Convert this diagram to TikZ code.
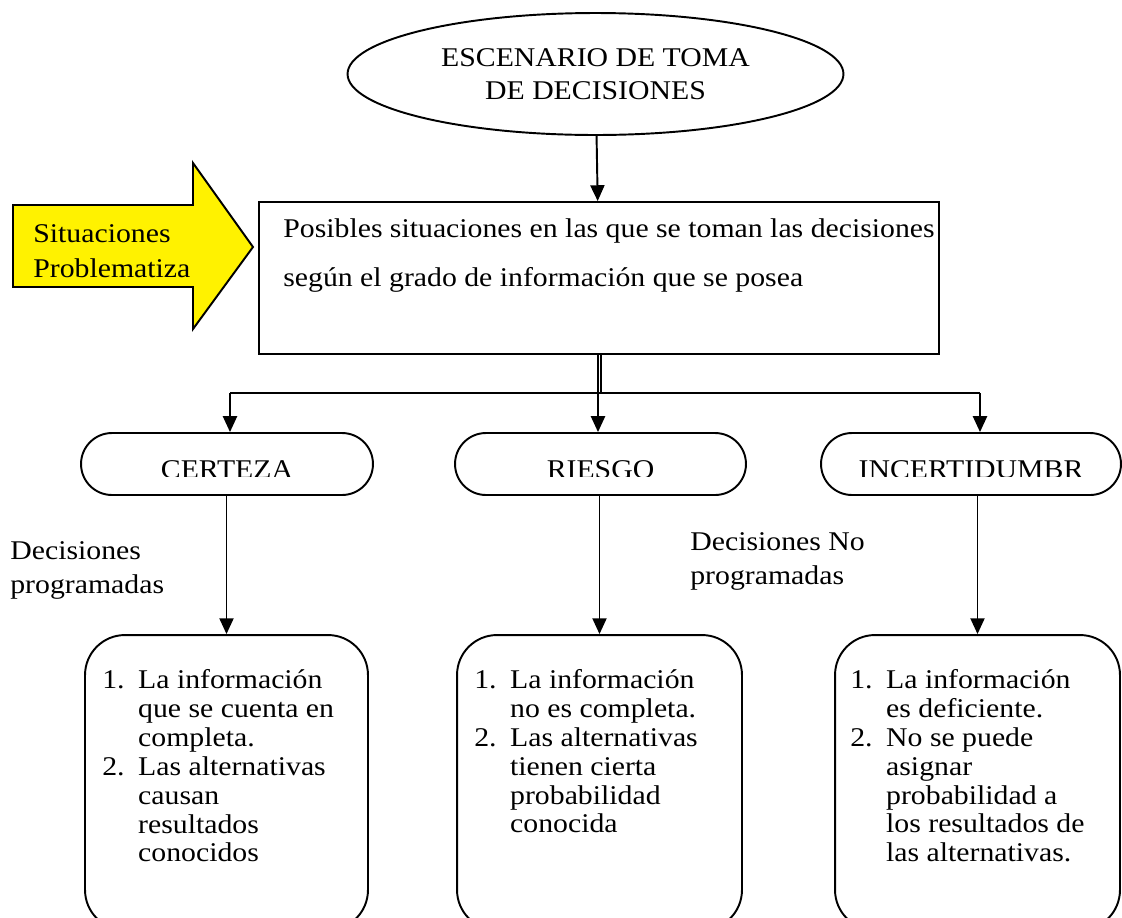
\documentclass[tikz,border=0pt]{standalone}
\usepackage{fontspec}
\setmainfont{Liberation Serif}[FakeStretch=1.1]
\usetikzlibrary{shapes.geometric,shapes.misc,arrows.meta}
\newcommand{\dsfont}[1]{\fontsize{15.4pt}{#1}\selectfont}
\newcommand{\dsnum}[1]{\makebox[20.4pt][l]{#1}}
\newcommand{\dsgap}{\hspace*{20.4pt}}
\tikzset{
  dslink/.style={draw, line width=1.1pt},
  dsflow/.style={dslink, -{Triangle[length=9pt,width=8pt]}},
  dsscenario/.style={ellipse, draw, line width=1.1pt, minimum width=9.92cm,
                     minimum height=2.44cm, inner sep=0pt, align=center,
                     font=\dsfont{18.7pt}},
  dsbox/.style={rectangle, draw, line width=1.1pt, minimum width=13.6cm,
                minimum height=3.04cm, inner sep=0pt},
  dspointer/.style={draw, line width=1.1pt, fill=yellow},
  dspill/.style={rounded rectangle, draw, line width=1.1pt,
                 minimum height=1.24cm, inner sep=0pt},
  dspilltext/.style={inner sep=0pt, font=\dsfont{18pt}},
  dslist/.style={rectangle, draw, line width=1.1pt, rounded corners=0.8cm,
                 minimum height=5.9cm, inner sep=0pt},
  dstext/.style={anchor=west, inner sep=0pt, align=left, font=\dsfont{27.8pt}},
  dslisttext/.style={dstext, font=\dsfont{16.4pt}},
  dsnote/.style={dstext, font=\dsfont{19.3pt}}
}

\begin{document}
\begin{tikzpicture}[x=0.02cm, y=-0.02cm]
  \clip (0,0) rectangle (1122,917);
  % the scenario and the box of situations under it
  \node[dsscenario] (scenario) at (595.5,74) {ESCENARIO DE TOMA\\DE DECISIONES};
  \node[dsbox] (situ) at (599,278) {};
  \node[dstext] (situtext) at (283,255.5)
    {Posibles situaciones en las que se toman las decisiones\\
     según el grado de información que se posea};
  \draw[dsflow] (scenario) -- (situ);
  % the yellow block arrow
  \filldraw[dspointer] (13,205) -- (193,205) -- (193,163) -- (253,247)
    -- (193,329) -- (193,287) -- (13,287) -- cycle;
  \node[dstext, font=\dsfont{19.8pt}] (pointer) at (33,251)
    {Situaciones\\Problematiza};
  % the split into three
  \coordinate (jl) at (230,393);
  \coordinate (jc) at (598,393);
  \coordinate (jm) at (601,393);
  \coordinate (jr) at (980,393);
  \draw[dslink] (jl) -- (jr);
  \draw[dslink] (situ.south -| jm) -- (jm);
  % name/x/width/label: the text runs past the bottom of the pill and is cut
  \foreach \n/\x/\w/\t in {%
      certeza/227/5.84/CERTEZA, riesgo/600.5/5.82/RIESGO,
      incert/971/6.0/INCERTIDUMBR}
    { \node[dspill, minimum width=\w cm] (\n) at (\x,464) {};
      \begin{scope}
        \clip (\x-150,433) rectangle (\x+150,476);
        \node[dspilltext] (\n-text) at (\x,470) {\t};
      \end{scope} }
  \draw[dsflow] (jl) -- (jl |- certeza.north);
  \draw[dsflow] (situ.south -| jc) -- (jc |- riesgo.north);
  \draw[dsflow] (jr) -- (jr |- incert.north);
  % list boxes under each pill
  \foreach \n/\p/\x/\w in {%
      list1/certeza/226.5/5.66, list2/riesgo/599.5/5.7, list3/incert/977.5/5.7}
    { \node[dslist, minimum width=\w cm] (\n) at (\x,782.5) {};
      \draw[dsflow] (\p.south -| \n.north) -- (\n.north); }
  \node[dslisttext] (items1) at (102,766)
    {\dsnum{1.}La información\\
     \dsgap que se cuenta en\\
     \dsgap completa.\\
     \dsnum{2.}Las alternativas\\
     \dsgap causan\\
     \dsgap resultados\\
     \dsgap conocidos};
  \node[dslisttext] (items2) at (474,751.5)
    {\dsnum{1.}La información\\
     \dsgap no es completa.\\
     \dsnum{2.}Las alternativas\\
     \dsgap tienen cierta\\
     \dsgap probabilidad\\
     \dsgap conocida};
  \node[dslisttext] (items3) at (850,766)
    {\dsnum{1.}La información\\
     \dsgap es deficiente.\\
     \dsnum{2.}No se puede\\
     \dsgap asignar\\
     \dsgap probabilidad a\\
     \dsgap los resultados de\\
     \dsgap las alternativas.};
  % side notes
  \node[dsnote] (progr) at (10,570) {Decisiones\\programadas};
  \node[dsnote] (noprogr) at (690,561.5) {Decisiones No\\programadas};
\end{tikzpicture}
\end{document}
